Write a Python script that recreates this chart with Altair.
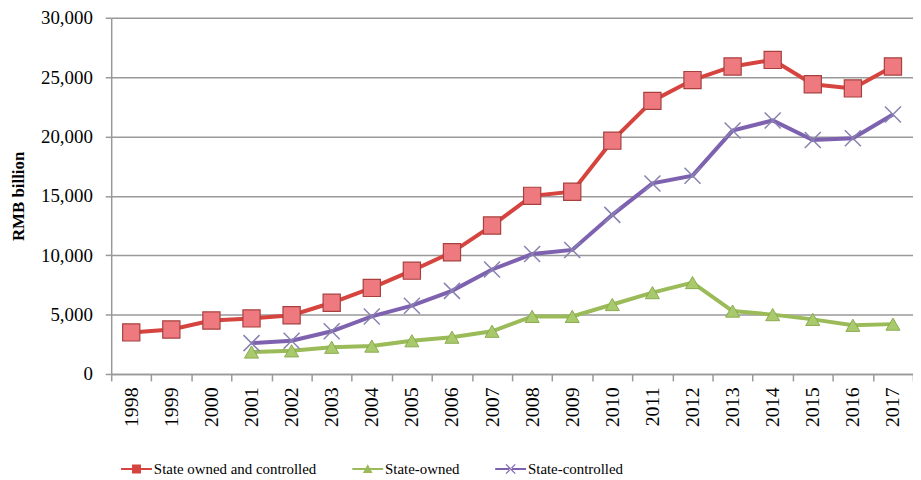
import altair as alt
import pandas as pd

years = [str(y) for y in range(1998, 2018)]
owned_controlled = [3500, 3750, 4500, 4680, 4950, 6000, 7250, 8700, 10250, 12500,
                    15000, 15350, 19650, 23000, 24750, 25900, 26450, 24400, 24050, 25900]
state_owned = [None, None, None, 1850, 1950, 2250, 2350, 2800, 3100, 3600,
               4850, 4850, 5850, 6850, 7700, 5300, 5000, 4600, 4100, 4200]
state_controlled = [None, None, None, 2600, 2800, 3600, 4850, 5750, 7000, 8800,
                    10100, 10450, 13400, 16050, 16700, 20500, 21350, 19700, 19850, 21850]

series_names = ["State owned and controlled", "State-owned", "State-controlled"]
series_values = [owned_controlled, state_owned, state_controlled]
line_colors = ["#D6443F", "#9BBB59", "#7E62B0"]

rows = []
for name, vals in zip(series_names, series_values):
    for y, v in zip(years, vals):
        if v is not None:
            rows.append({"year": y, "value": v, "series": name})
df = pd.DataFrame(rows)

FONT = "Liberation Serif"

x_enc = alt.X("year:O", scale=alt.Scale(type="band", paddingInner=0, paddingOuter=0, domain=years),
              axis=alt.Axis(title=None, labelAngle=-90, labelFontSize=20, labelFont=FONT,
                            labelColor="#000", tickBand="extent", tickSize=7, tickColor="#999",
                            tickWidth=1.5, domainColor="#999", domainWidth=1.5, labelPadding=6,
                            grid=False, labelBaseline="middle", labelAlign="right"))
y_enc = alt.Y("value:Q", scale=alt.Scale(domain=[0, 30000], nice=False),
              axis=alt.Axis(title="RMB billion", titleFont=FONT, titleFontSize=17,
                            titleFontWeight="bold", titleColor="#000", titlePadding=13,
                            values=[0, 5000, 10000, 15000, 20000, 25000, 30000], format=",.0f",
                            labelFontSize=19, labelFont=FONT, labelColor="#000", tickSize=6,
                            tickColor="#999", tickWidth=1.5, domainColor="#999", domainWidth=1.5,
                            gridColor="#999", gridWidth=1.5, labelPadding=13))

color_scale = alt.Scale(domain=series_names, range=line_colors)
legend_shapes = [
    "M-1.9,-0.13H1.9V0.13H-1.9Z M-0.55,-0.55H0.55V0.55H-0.55Z",
    "M-1.9,-0.13H1.9V0.13H-1.9Z M0,-0.6L0.6,0.5H-0.6Z",
    "M-1.9,-0.13H1.9V0.13H-1.9Z M-0.62,-0.52L-0.52,-0.62L0.62,0.52L0.52,0.62Z M-0.62,0.52L-0.52,0.62L0.62,-0.52L0.52,-0.62Z",
]
legend_def = alt.Legend(title=None, orient="none", direction="horizontal",
                        legendX=17, legendY=446, labelFont=FONT, labelFontSize=15,
                        labelColor="#000", symbolOpacity=1, symbolSize=268, labelLimit=0,
                        labelOffset=9, columnPadding=35, symbolStrokeWidth=0)

lines = alt.Chart(df).mark_line(strokeWidth=4).encode(
    x=x_enc, y=y_enc,
    color=alt.Color("series:N", scale=color_scale, legend=legend_def),
)

sq = alt.Chart(df).transform_filter(alt.datum.series == series_names[0]).mark_point(
    shape="square", filled=True, fill="#EE7A80", stroke="#A8403E", strokeWidth=1.2,
    size=300, opacity=1).encode(x=x_enc, y=y_enc)
tri = alt.Chart(df).transform_filter(alt.datum.series == series_names[1]).mark_point(
    shape="triangle-up", filled=True, fill="#A9CA6C", stroke="#8AAA50", strokeWidth=1,
    size=200, opacity=1).encode(x=x_enc, y=y_enc)
xs = alt.Chart(df).transform_filter(alt.datum.series == series_names[2]).mark_point(
    shape="M-1,-1L1,1M-1,1L1,-1", filled=False, stroke="#8882B0", strokeWidth=1.5,
    size=260, opacity=1).encode(x=x_enc, y=y_enc)

legend_layer = alt.Chart(df).mark_point(filled=True, opacity=0, size=268).encode(
    x=x_enc, y=y_enc,
    color=alt.Color("series:N", scale=color_scale, legend=legend_def),
    shape=alt.Shape("series:N", scale=alt.Scale(domain=series_names, range=legend_shapes),
                    legend=legend_def),
)

chart = alt.layer(lines, sq, tri, xs, legend_layer).properties(
    width=808, height=359,
    autosize=alt.AutoSizeParams(type="none"),
    padding={"left": 104, "top": 8, "right": 0, "bottom": 105},
).configure_view(stroke=None).configure_axisX(grid=False)

chart.save("out.html", embed_options={"renderer": "svg", "actions": False})
